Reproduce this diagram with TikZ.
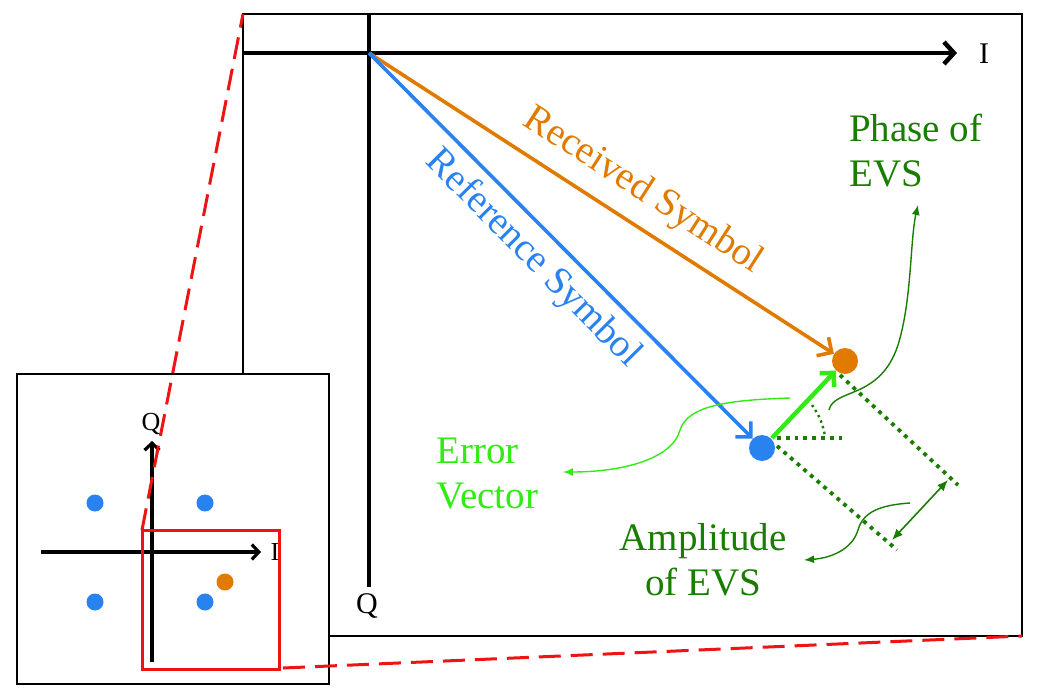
\documentclass[tikz,border=0pt]{standalone}
\usepackage{fontspec}
\setmainfont{Liberation Serif}
\usetikzlibrary{arrows.meta}
\definecolor{orng}{RGB}{224,123,0}
\definecolor{blu}{RGB}{40,130,240}
\definecolor{bgrn}{RGB}{50,235,20}
\definecolor{dgrn}{RGB}{25,125,0}
\definecolor{rd}{RGB}{238,20,20}
\tikzset{
  frame/.style={draw=black, line width=2.6pt},
  axis/.style={line width=4.5pt, -{Straight Barb[length=10pt,width=22pt]}},
  saxis/.style={line width=3.2pt, -{Straight Barb[length=7pt,width=15pt]}},
  vec/.style={line width=3.6pt, -{Straight Barb[length=11pt,width=22pt]}},
  dot/.style={circle, inner sep=0pt, minimum size=26pt},
  sdot/.style={circle, inner sep=0pt, minimum size=17pt},
  lbl/.style={font=\fontsize{39}{45}\selectfont, inner sep=0pt},
  dots/.style={draw=dgrn, line width=3.8pt, dash pattern=on 3.8pt off 5pt},
  thin/.style={line width=1.4pt, -{Latex[length=10pt,width=8pt]}},
  zoomline/.style={draw=rd, line width=3pt, dash pattern=on 22pt off 10pt},
}
\begin{document}
\begin{tikzpicture}[x=1pt,y=-1pt]
\useasboundingbox (0,0) rectangle (1038,699);
% big frame
\draw[frame] (243,14) rectangle (1022,636);
% big axes
\coordinate (o) at (369,53);
\coordinate (ileft) at (243,53);
\coordinate (iright) at (957,53);
\coordinate (qtop) at (369,14);
\coordinate (qbot) at (369,587);
\draw[axis] (ileft) -- (iright);
\draw[line width=4.5pt] (qtop) -- (qbot);
\node[font=\fontsize{30}{36}\selectfont] (Ilab) at (984,54) {I};
\node[font=\fontsize{30}{36}\selectfont] (Qlab) at (367,606) {Q};
% symbols
\node[dot, fill=orng] (rx) at (845,361) {};
\node[dot, fill=blu] (ref) at (762,448) {};
\draw[vec, draw=orng] (o) -- (rx);
\draw[vec, draw=blu] (o) -- (ref);
\node[lbl, text=orng, rotate=-32.8] (rxlab) at (643,191) {Received Symbol};
\node[lbl, text=blu, rotate=-45.3] (reflab) at (533,259) {Reference Symbol};
% dotted construction
\coordinate (h0) at (777,438);
\coordinate (h1) at (847,438);
\draw[dots] (h0) -- (h1);
\coordinate (a0) at (812,405);
\coordinate (a1) at (825,436);
\draw[draw=dgrn, line width=2.4pt, dash pattern=on 2.4pt off 3.5pt] (a0) to[bend left=12] (a1);
\coordinate (u0) at (840,375);
\coordinate (u1) at (958,485);
\coordinate (l0) at (777,446);
\coordinate (l1) at (897,550);
\draw[dots] (u0) -- (u1);
\draw[dots] (l0) -- (l1);
% error vector
\coordinate (e0) at (772,438);
\draw[draw=bgrn, line width=4.5pt, -{Straight Barb[length=10pt,width=20pt]}] (e0) -- (rx);
% amplitude double arrow
\coordinate (d0) at (948,480);
\coordinate (d1) at (892,540);
\draw[draw=dgrn, line width=1.6pt, {Latex[length=11pt,width=9pt]}-{Latex[length=11pt,width=9pt]}] (d0) -- (d1);
% labels
\node[lbl, text=dgrn, align=left, anchor=west] (phlab) at (849,151) {Phase of\\EVS};
\node[lbl, text=bgrn, align=left, anchor=west] (evlab) at (436,474) {Error\\Vector};
\node[lbl, text=dgrn, align=center] (amlab) at (703,560) {Amplitude\\of EVS};
% curvy pointers
\coordinate (p0) at (829,410);
\coordinate (p1) at (918,205);
\draw[thin, draw=dgrn] (p0) .. controls (834,388) and (880,400) .. (898,345) .. controls (912,300) and (910,240) .. (p1);
\coordinate (v0) at (790,398);
\coordinate (v1) at (563,472);
\draw[thin, draw=bgrn] (v0) .. controls (730,400) and (688,405) .. (680,430) .. controls (672,460) and (620,472) .. (v1);
\coordinate (m0) at (910,503);
\coordinate (m1) at (804,560);
\draw[thin, draw=dgrn] (m0) .. controls (880,505) and (863,512) .. (858,530) .. controls (852,550) and (830,558) .. (m1);
% inset
\draw[frame, fill=white] (17,374) rectangle (329,684);
\coordinate (sileft) at (41,552);
\coordinate (siright) at (261,552);
\coordinate (sqbot) at (152,662);
\coordinate (sqtop) at (152,441);
\draw[saxis] (sileft) -- (siright);
\draw[saxis] (sqbot) -- (sqtop);
\node[font=\fontsize{26}{30}\selectfont] (sI) at (275,552) {I};
\node[font=\fontsize{26}{30}\selectfont] (sQ) at (151,424) {Q};
\node[sdot, fill=blu] (b1) at (95,503) {};
\node[sdot, fill=blu] (b2) at (205,503) {};
\node[sdot, fill=blu] (b3) at (95,602) {};
\node[sdot, fill=blu] (b4) at (205,602) {};
\node[sdot, fill=orng] (o1) at (225,582) {};
% zoom box
\draw[draw=rd, line width=3pt] (142,530) rectangle (279,669);
\coordinate (z1) at (142,530);
\coordinate (z2) at (243,14);
\coordinate (z3) at (283,668);
\coordinate (z4) at (1022,636);
\draw[zoomline] (z1) -- (z2);
\draw[zoomline] (z3) -- (z4);
\end{tikzpicture}
\end{document}
